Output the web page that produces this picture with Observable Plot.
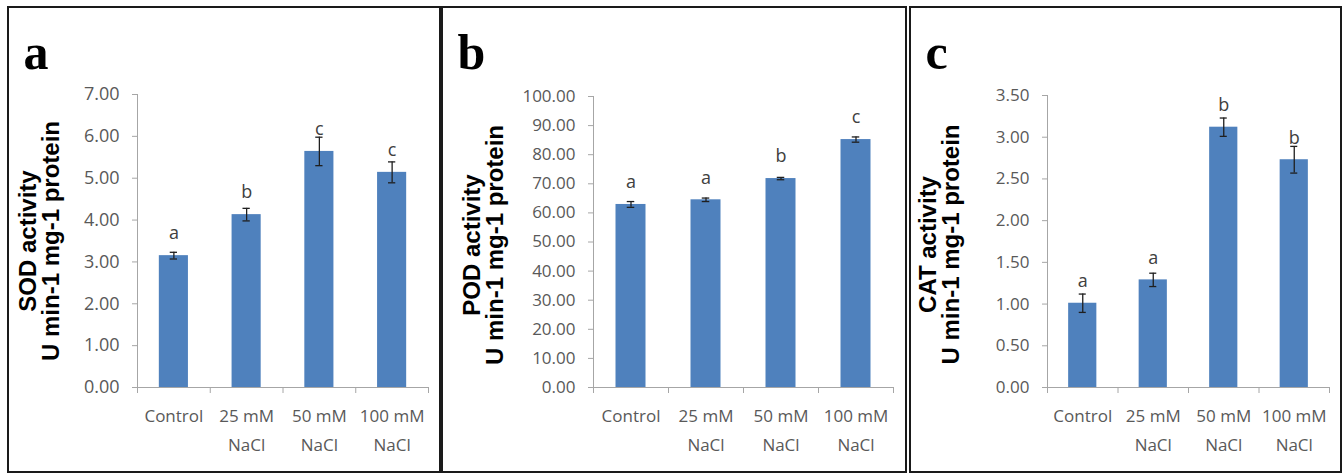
<!DOCTYPE html>
<html><head><meta charset="utf-8">
<script src="https://cdn.jsdelivr.net/npm/d3@7"></script>
<script src="https://cdn.jsdelivr.net/npm/@observablehq/plot@0.6"></script>
<style>
html,body{margin:0;padding:0;background:#fff;}
body{width:1343px;height:474px;position:relative;overflow:hidden;}
.holder{position:absolute;}
.frame{position:absolute;box-sizing:border-box;border:2px solid #1a1a1a;pointer-events:none;}
</style></head><body>
<script>
// ---- data ----
const categories = ["Control", "25 mM\nNaCl", "50 mM\nNaCl", "100 mM\nNaCl"];

const sodValues = [3.15, 4.13, 5.64, 5.14];
const sodErrors = [0.08, 0.15, 0.34, 0.25];
const sodLetters = ["a", "b", "c", "c"];
const sodTicks = [0, 1, 2, 3, 4, 5, 6, 7];

const podValues = [62.9, 64.5, 71.8, 85.2];
const podErrors = [1.0, 0.6, 0.4, 0.9];
const podLetters = ["a", "a", "b", "c"];
const podTicks = [0, 10, 20, 30, 40, 50, 60, 70, 80, 90, 100];

const catValues = [1.01, 1.29, 3.12, 2.73];
const catErrors = [0.11, 0.08, 0.11, 0.16];
const catLetters = ["a", "a", "b", "b"];
const catTicks = [0, 0.5, 1, 1.5, 2, 2.5, 3, 3.5];

const panelLetters = ["a", "b", "c"];
const titles = [
  "SOD activity\nU min-1 mg-1 protein",
  "POD activity\nU min-1 mg-1 protein",
  "CAT activity\nU min-1 mg-1 protein"
];

// ---- layout ----
const Y0 = 7, Y1 = 472;
const panels = [
  {x0: 8,   x1: 440,  ml: 129, mr: 12, mt: 87, values: sodValues, errors: sodErrors, letters: sodLetters, ticks: sodTicks, max: 7,   titleDx: -97.5, titleDy: 0, tickFont: 18},
  {x0: 442, x1: 906,  ml: 151, mr: 13, mt: 89, values: podValues, errors: podErrors, letters: podLetters, ticks: podTicks, max: 100, titleDx: -109, titleDy: 3, tickFont: 17},
  {x0: 910, x1: 1341, ml: 137, mr: 12, mt: 88, values: catValues, errors: catErrors, letters: catLetters, ticks: catTicks, max: 3.5, titleDx: -107, titleDy: 3, tickFont: 17}
];

const axisGray = "#a6a6a6";
const labelGray = "#595959";
const barBlue = "#4F81BD";

panels.forEach((p, k) => {
  const width = p.x1 - p.x0, height = Y1 - Y0, mb = 85;
  const data = categories.map((c, i) => ({i: i + 0.5, c, v: p.values[i], e: p.errors[i], l: p.letters[i]}));
  const svg = Plot.plot({
    width, height,
    marginLeft: p.ml, marginRight: p.mr, marginTop: p.mt, marginBottom: mb,
    style: {fontFamily: "'Open Sans', sans-serif", fontSize: "17px", background: "transparent", overflow: "visible"},
    x: {domain: [0, categories.length]},
    y: {domain: [0, p.max]},
    marks: [
      Plot.ruleY([0], {stroke: axisGray}),
      Plot.ruleX([0], {stroke: axisGray}),
      Plot.rect(data, {x1: d => d.i - 0.2, x2: d => d.i + 0.2, y1: () => 0, y2: "v", fill: barBlue}),
      Plot.ruleX(data, {x: "i", y1: d => d.v - d.e, y2: d => d.v + d.e, stroke: "#1f1f1f", strokeWidth: 1.3}),
      Plot.ruleY(data, {y: d => d.v + d.e, x1: d => d.i - 0.05, x2: d => d.i + 0.05, stroke: "#1f1f1f", strokeWidth: 1.3}),
      Plot.ruleY(data, {y: d => d.v - d.e, x1: d => d.i - 0.05, x2: d => d.i + 0.05, stroke: "#1f1f1f", strokeWidth: 1.3}),
      Plot.text(data, {x: "i", y: "v", text: "l", dy: -22, fill: "#404040", fontSize: 18}),
      Plot.axisY({ticks: p.ticks, tickFormat: d3.format(".2f"), tickSize: 5, tickPadding: 13, stroke: axisGray, fill: labelGray, label: null, fontSize: p.tickFont}),
      Plot.axisX({ticks: [0, 1, 2, 3, 4], tickFormat: () => "", tickSize: 6, stroke: axisGray, label: null}),
      Plot.axisX({ticks: categories.map((c, i) => i + 0.5), tickFormat: d => categories[Math.floor(d)], tickSize: 0, tickPadding: 14, lineHeight: 1.7, fill: labelGray, label: null, fontSize: 17}),
      Plot.text([titles[k]], {frameAnchor: "left", rotate: -90, dx: p.titleDx, dy: p.titleDy, textAnchor: "middle", lineAnchor: "middle", lineHeight: 0.95, fontSize: 24, fontWeight: "bold", fontFamily: "'Liberation Sans', Arial, sans-serif", fill: "#000"}),
      Plot.text([panelLetters[k]], {frameAnchor: "top-left", dx: 15 - p.ml, dy: 61 - p.mt, textAnchor: "start", lineAnchor: "bottom", fontSize: 50, fontWeight: "bold", fontFamily: "'Liberation Serif', 'Times New Roman', serif", fill: "#000"})
    ]
  });
  const holder = document.createElement("div");
  holder.className = "holder";
  holder.style.left = p.x0 + "px";
  holder.style.top = Y0 + "px";
  holder.appendChild(svg);
  document.body.appendChild(holder);
  const frame = document.createElement("div");
  frame.className = "frame";
  frame.style.left = (p.x0 - 1) + "px";
  frame.style.top = (Y0 - 1) + "px";
  frame.style.width = (width + 2) + "px";
  frame.style.height = (height + 2) + "px";
  document.body.appendChild(frame);
});
</script>
</body></html>
